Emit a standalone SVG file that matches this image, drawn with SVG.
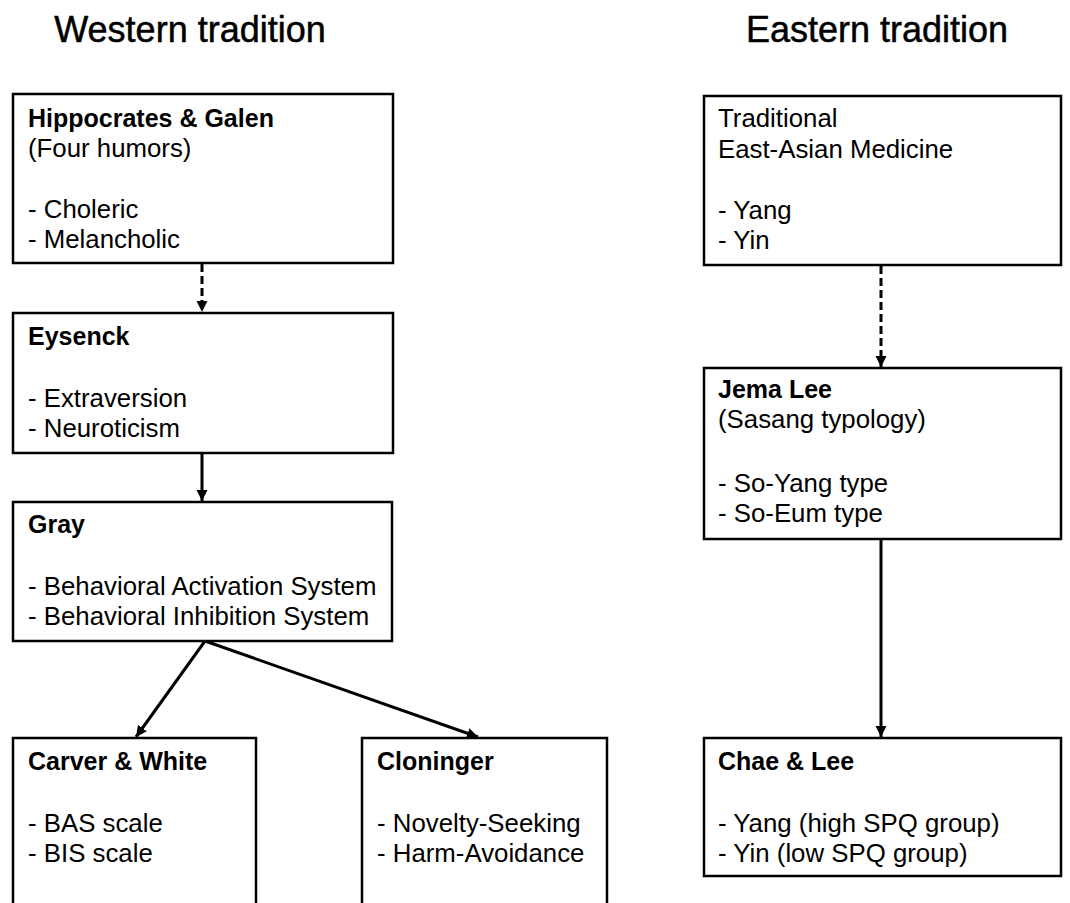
<svg xmlns="http://www.w3.org/2000/svg" width="1070" height="903" viewBox="0 0 1070 903">
<style>
.box{fill:#fff;stroke:#000;stroke-width:2.5}
.t{font-family:"Liberation Sans",Arial,sans-serif;font-size:25.8px;fill:#000}
.b{font-weight:bold;font-size:25px}
.h{font-family:"Liberation Sans",Arial,sans-serif;font-size:36px;fill:#000;stroke:#000;stroke-width:0.5;text-anchor:middle}
.c{fill:none;stroke:#000;stroke-width:3}
.d{stroke-dasharray:8 4}
</style>
<defs>
<marker id="ah" markerUnits="userSpaceOnUse" markerWidth="12" markerHeight="12" refX="11" refY="6" orient="auto">
<path d="M0,0.5 L11,6 L0,11.5 z" fill="#000"/>
</marker>
</defs>
<rect width="1070" height="903" fill="#fff"/>
<text class="h" x="190" y="42">Western tradition</text>
<text class="h" x="877" y="42">Eastern tradition</text>
<g id="connectors">
<line class="c d" x1="202" y1="264" x2="202" y2="312" marker-end="url(#ah)"/>
<line class="c" x1="202" y1="453" x2="202" y2="501" marker-end="url(#ah)"/>
<line class="c" x1="205" y1="641" x2="136" y2="737" marker-end="url(#ah)"/>
<line class="c" x1="205" y1="641" x2="478" y2="737" marker-end="url(#ah)"/>
<line class="c d" x1="881" y1="266" x2="881" y2="367" marker-end="url(#ah)"/>
<line class="c" x1="881" y1="539" x2="881" y2="737" marker-end="url(#ah)"/>
</g>
<g id="hippocrates">
<rect class="box" x="13" y="94" width="380" height="169"/>
<text class="t b" x="28" y="127">Hippocrates &amp; Galen</text>
<text class="t" x="28" y="157">(Four humors)</text>
<text class="t" x="28" y="218">- Choleric</text>
<text class="t" x="28" y="248">- Melancholic</text>
</g>
<g id="eysenck">
<rect class="box" x="13" y="313" width="380" height="140"/>
<text class="t b" x="28" y="345">Eysenck</text>
<text class="t" x="28" y="407">- Extraversion</text>
<text class="t" x="28" y="437">- Neuroticism</text>
</g>
<g id="gray">
<rect class="box" x="13" y="502" width="379" height="139"/>
<text class="t b" x="28" y="533">Gray</text>
<text class="t" x="28" y="595">- Behavioral Activation System</text>
<text class="t" x="28" y="625">- Behavioral Inhibition System</text>
</g>
<g id="carver">
<rect class="box" x="13" y="738" width="243" height="180"/>
<text class="t b" x="28" y="770">Carver &amp; White</text>
<text class="t" x="28" y="832">- BAS scale</text>
<text class="t" x="28" y="862">- BIS scale</text>
</g>
<g id="cloninger">
<rect class="box" x="362" y="738" width="245" height="180"/>
<text class="t b" x="377" y="770">Cloninger</text>
<text class="t" x="377" y="832">- Novelty-Seeking</text>
<text class="t" x="377" y="862">- Harm-Avoidance</text>
</g>
<g id="traditional">
<rect class="box" x="704" y="96" width="357" height="169"/>
<text class="t" x="718" y="127">Traditional</text>
<text class="t" x="718" y="158">East-Asian Medicine</text>
<text class="t" x="718" y="219">- Yang</text>
<text class="t" x="718" y="249">- Yin</text>
</g>
<g id="jemalee">
<rect class="box" x="704" y="368" width="357" height="171"/>
<text class="t b" x="718" y="398">Jema Lee</text>
<text class="t" x="718" y="428">(Sasang typology)</text>
<text class="t" x="718" y="492">- So-Yang type</text>
<text class="t" x="718" y="522">- So-Eum type</text>
</g>
<g id="chaelee">
<rect class="box" x="704" y="738" width="357" height="138"/>
<text class="t b" x="718" y="770">Chae &amp; Lee</text>
<text class="t" x="718" y="832">- Yang (high SPQ group)</text>
<text class="t" x="718" y="862">- Yin (low SPQ group)</text>
</g>
</svg>
